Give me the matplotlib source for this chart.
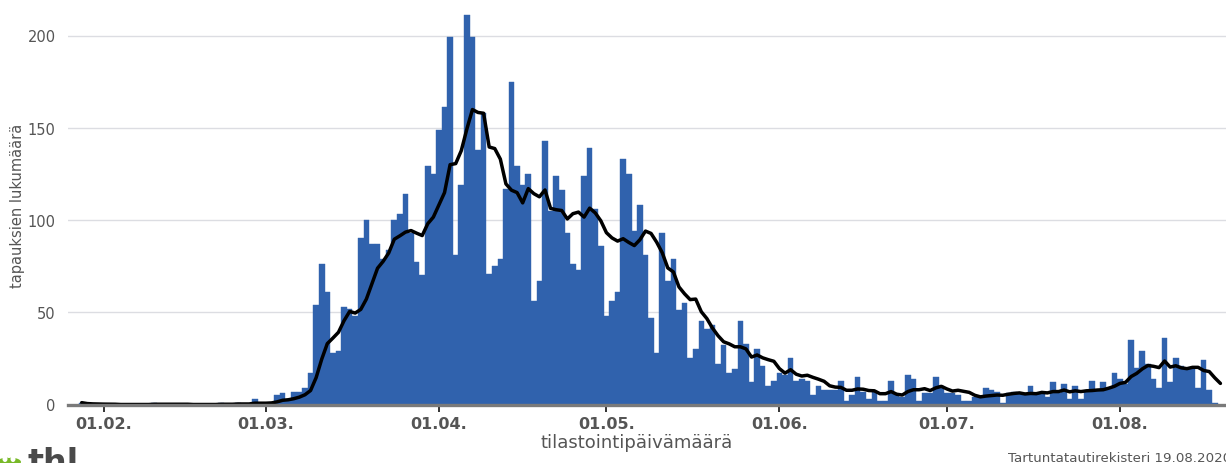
import numpy as np
import pandas as pd
import matplotlib
matplotlib.use("Agg")
import matplotlib.pyplot as plt
from matplotlib.patches import Circle, Ellipse

# daily case counts (tilastointipäivämäärä), 28.1.2020 - 19.8.2020
jan = [1, 0, 0, 0]
feb = [0, 0, 0, 0, 0, 0, 0, 0, 0, 1,
       0, 0, 0, 0, 0, 0, 0, 0, 0, 0,
       0, 1, 0, 0, 1, 0, 0, 3, 1]
mar = [0, 1, 5, 6, 2, 7, 7, 9, 17, 54,
       76, 61, 28, 29, 53, 52, 48, 90, 100, 87,
       87, 79, 84, 100, 103, 114, 93, 77, 70, 129, 125]
apr = [149, 161, 199, 81, 119, 211, 199, 138, 158, 71,
       75, 79, 117, 175, 129, 119, 125, 56, 67, 143,
       105, 124, 116, 93, 76, 73, 124, 139, 106, 86]
may = [48, 56, 61, 133, 125, 94, 108, 81, 47, 28,
       93, 67, 79, 51, 55, 25, 30, 45, 41, 43,
       22, 32, 17, 19, 45, 33, 12, 30, 21, 10, 13]
jun = [17, 16, 25, 13, 14, 13, 5, 10, 8, 8,
       8, 13, 2, 5, 15, 7, 3, 7, 2, 2,
       13, 5, 4, 16, 14, 2, 6, 6, 15, 10]
jul = [6, 6, 5, 2, 2, 4, 4, 9, 8, 7,
       1, 6, 7, 6, 5, 10, 6, 6, 4, 12,
       6, 11, 3, 10, 3, 7, 13, 8, 12, 9, 17]
aug = [14, 11, 35, 20, 29, 22, 14, 9, 36, 12,
       25, 21, 19, 19, 9, 24, 8, 1, 0]

start_date = "2020-01-28"
tick_dates = ["2020-02-01", "2020-03-01", "2020-04-01", "2020-05-01",
              "2020-06-01", "2020-07-01", "2020-08-01"]
tick_labels = ["01.02.", "01.03.", "01.04.", "01.05.", "01.06.", "01.07.", "01.08."]
y_ticks = [0, 50, 100, 150, 200]

counts = jan + feb + mar + apr + may + jun + jul + aug
dates = pd.date_range(start_date, periods=len(counts), freq="D")
series = pd.Series(counts, index=dates, dtype=float)
avg7 = series.rolling(7, min_periods=1).mean()

BAR = "#3062ad"
W, H = 1226, 464
fig = plt.figure(figsize=(W / 100, H / 100), dpi=100)
left_px, base_px = 68.3, 405.5
ax = fig.add_axes([left_px / W, 1 - base_px / H, 1 - left_px / W, base_px / H])

ax.bar(dates, counts, width=1.0, color=BAR, edgecolor=BAR, linewidth=0.3,
       align="center", zorder=2)
ax.plot(dates, avg7.values, color="black", lw=2.5, zorder=3,
        solid_joinstyle="round", solid_capstyle="round")

feb1 = pd.Timestamp("2020-02-01")
ax.set_xlim(feb1 - pd.Timedelta(days=6.4), feb1 + pd.Timedelta(days=201))
ax.set_ylim(0, base_px / 1.845)

ax.set_yticks(y_ticks)
ax.set_yticklabels([str(v) for v in y_ticks], fontsize=10.5, color="#555555")
ax.tick_params(axis="y", length=0, pad=9)
ax.grid(axis="y", color="#dcdde2", lw=1.0, zorder=0)
ax.set_axisbelow(True)

ax.set_xticks(pd.to_datetime(tick_dates))
ax.set_xticklabels(tick_labels, fontsize=11.5, fontweight="bold", color="#555555")
ax.tick_params(axis="x", direction="out", length=5, width=1.4, color="#333333", pad=3)

for side in ["top", "right", "left"]:
    ax.spines[side].set_visible(False)
ax.spines["bottom"].set_color("#7a7a7a")
ax.spines["bottom"].set_linewidth(2.4)
ax.spines["bottom"].set_zorder(4)

fig.text(637 / W, 1 - 443 / H, "tilastointipäivämäärä", fontsize=13,
         color="#555555", ha="center", va="center")
fig.text(18 / W, 1 - 206 / H, "tapauksien lukumäärä", rotation=90,
         fontsize=10.5, color="#555555", ha="center", va="center")

fig.text(1008 / W, 1 - 462 / H, "Tartuntatautirekisteri 19.08.2020",
         fontsize=9.6, color="#555555", ha="left", va="baseline")

# thl logo (cut off at bottom edge)
logo = Circle((9 / W, 1 - 463 / H), 12 / W, transform=fig.transFigure,
              facecolor="#78b928", edgecolor="none")
fig.add_artist(logo)
for dx, dy in [(-4, -3), (4, -3), (0, -7)]:
    fig.add_artist(Ellipse(((9 + dx) / W, 1 - (463 + dy) / H), 5 / W, 6 / H,
                           transform=fig.transFigure, facecolor="white",
                           edgecolor="none"))
fig.text(27 / W, 1 - 473 / H, "thl", fontsize=24, fontweight="bold",
         color="#4a4a4a", ha="left", va="baseline")

fig.savefig("out.png", dpi=100)
